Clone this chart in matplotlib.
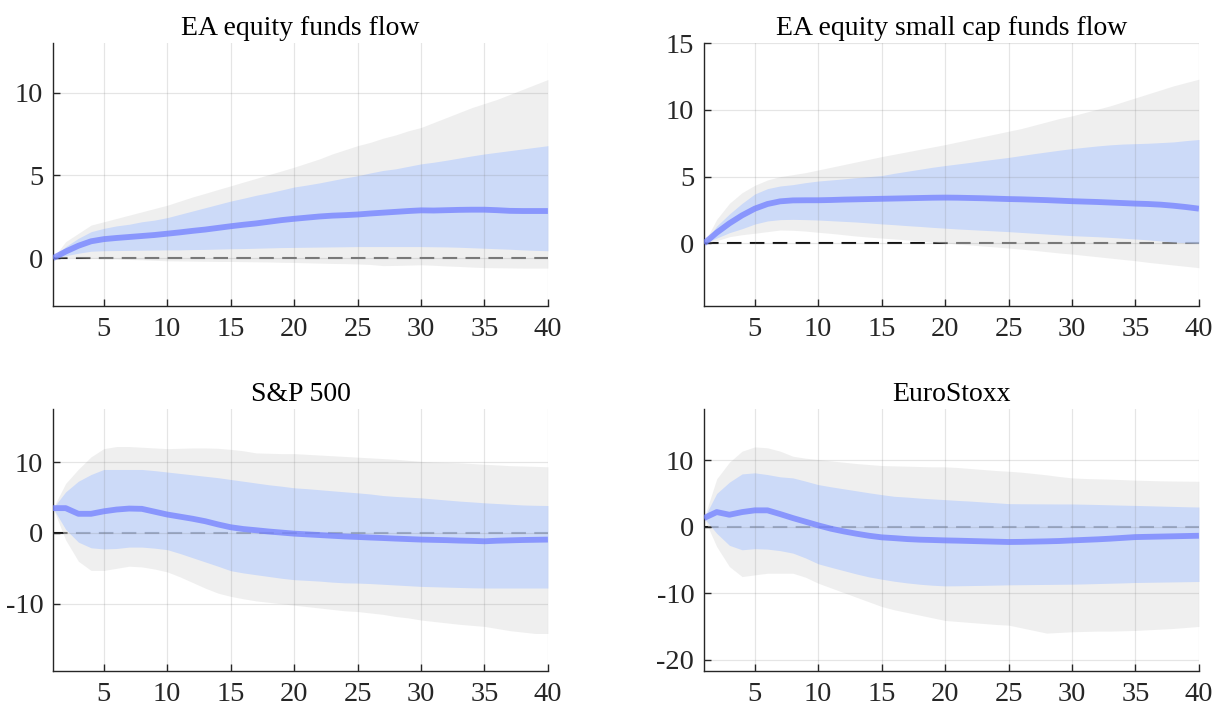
import matplotlib
matplotlib.use("Agg")
import matplotlib.pyplot as plt
import numpy as np

plt.rcParams['font.family'] = ['Liberation Serif', 'DejaVu Serif']
plt.rcParams['axes.unicode_minus'] = False

horizons = list(range(1, 41))
xticks = [5, 10, 15, 20, 25, 30, 35, 40]

titles = ["EA equity funds flow", "EA equity small cap funds flow", "S&P 500", "EuroStoxx"]

# Panel 1: EA equity funds flow
med1 = [0, 0.4, 0.75, 1.02, 1.15, 1.22, 1.28, 1.34, 1.4, 1.48, 1.56, 1.65, 1.73, 1.83, 1.93, 2.02, 2.1, 2.2, 2.3, 2.38,
        2.45, 2.52, 2.57, 2.6, 2.64, 2.7, 2.75, 2.8, 2.85, 2.89, 2.88, 2.9, 2.92, 2.93, 2.93, 2.9, 2.86, 2.85, 2.85, 2.85]
b1_hi = [0, 0.7, 1.2, 1.6, 1.8, 1.95, 2.05, 2.2, 2.3, 2.45, 2.65, 2.85, 3.05, 3.25, 3.45, 3.62, 3.8, 3.95, 4.12, 4.3,
         4.42, 4.55, 4.7, 4.85, 4.98, 5.15, 5.3, 5.4, 5.55, 5.7, 5.8, 5.92, 6.05, 6.18, 6.3, 6.4, 6.5, 6.6, 6.7, 6.8]
b1_lo = [0, 0.15, 0.3, 0.42, 0.45, 0.46, 0.47, 0.48, 0.49, 0.5, 0.5, 0.52, 0.53, 0.55, 0.57, 0.58, 0.6, 0.62, 0.64, 0.65,
         0.66, 0.67, 0.68, 0.69, 0.7, 0.7, 0.7, 0.7, 0.7, 0.7, 0.69, 0.68, 0.66, 0.63, 0.6, 0.57, 0.54, 0.5, 0.47, 0.45]
g1_hi = [0, 1.0, 1.5, 2.0, 2.2, 2.4, 2.6, 2.8, 3.0, 3.2, 3.45, 3.7, 3.92, 4.15, 4.37, 4.6, 4.82, 5.05, 5.27, 5.5,
         5.75, 6.0, 6.3, 6.55, 6.8, 7.0, 7.25, 7.45, 7.7, 7.9, 8.2, 8.5, 8.8, 9.1, 9.35, 9.6, 9.9, 10.2, 10.5, 10.8]
g1_lo = [0, 0.05, 0.02, 0.0, -0.02, -0.05, -0.08, -0.1, -0.13, -0.16, -0.17, -0.18, -0.19, -0.2, -0.2, -0.21, -0.22, -0.23, -0.25, -0.26,
         -0.28, -0.3, -0.32, -0.33, -0.35, -0.38, -0.45, -0.44, -0.42, -0.4, -0.43, -0.47, -0.5, -0.54, -0.57, -0.58, -0.59, -0.6, -0.6, -0.6]

# Panel 2: EA equity small cap funds flow
med2 = [0, 0.8, 1.5, 2.1, 2.6, 2.95, 3.15, 3.22, 3.23, 3.23, 3.25, 3.28, 3.3, 3.32, 3.34, 3.36, 3.38, 3.4, 3.42, 3.43,
        3.42, 3.4, 3.38, 3.35, 3.32, 3.3, 3.27, 3.24, 3.2, 3.16, 3.13, 3.1, 3.06, 3.02, 2.98, 2.95, 2.9, 2.82, 2.72, 2.6]
b2_hi = [0, 1.3, 2.2, 3.0, 3.7, 4.1, 4.3, 4.4, 4.55, 4.67, 4.75, 4.83, 4.92, 5.0, 5.08, 5.25, 5.4, 5.55, 5.7, 5.83,
         5.95, 6.07, 6.2, 6.32, 6.44, 6.58, 6.72, 6.85, 6.98, 7.1, 7.2, 7.3, 7.38, 7.44, 7.47, 7.5, 7.55, 7.6, 7.7, 7.78]
b2_lo = [0, 0.4, 0.8, 1.1, 1.45, 1.68, 1.78, 1.8, 1.78, 1.75, 1.7, 1.65, 1.6, 1.53, 1.46, 1.4, 1.33, 1.27, 1.2, 1.14,
         1.08, 1.03, 0.98, 0.93, 0.88, 0.82, 0.76, 0.7, 0.64, 0.58, 0.54, 0.5, 0.45, 0.39, 0.33, 0.26, 0.18, 0.1, 0.04, 0.0]
g2_hi = [0, 1.8, 3.0, 3.8, 4.35, 4.75, 5.0, 5.15, 5.3, 5.5, 5.7, 5.9, 6.1, 6.3, 6.5, 6.68, 6.86, 7.04, 7.22, 7.4,
         7.6, 7.8, 8.0, 8.2, 8.4, 8.6, 8.85, 9.1, 9.35, 9.55, 9.8, 10.05, 10.3, 10.6, 10.9, 11.2, 11.5, 11.8, 12.05, 12.3]
g2_lo = [0, 0.2, 0.5, 0.65, 0.76, 0.88, 1.0, 0.98, 0.92, 0.83, 0.75, 0.65, 0.55, 0.47, 0.4, 0.33, 0.26, 0.18, 0.1, 0.03,
         -0.05, -0.12, -0.2, -0.27, -0.35, -0.43, -0.52, -0.62, -0.72, -0.8, -0.9, -1.0, -1.1, -1.2, -1.3, -1.42, -1.52, -1.62, -1.72, -1.82]

# Panel 3: S&P 500
med3 = [3.5, 3.5, 2.7, 2.7, 3.05, 3.3, 3.44, 3.4, 3.0, 2.6, 2.3, 2.0, 1.65, 1.2, 0.8, 0.55, 0.38, 0.2, 0.05, -0.1,
        -0.2, -0.3, -0.4, -0.5, -0.57, -0.65, -0.72, -0.8, -0.87, -0.94, -0.98, -1.02, -1.08, -1.12, -1.18, -1.1, -1.05, -1.0, -0.97, -0.94]
b3_hi = [3.5, 5.8, 7.3, 8.25, 8.96, 8.96, 8.96, 8.96, 8.8, 8.6, 8.4, 8.2, 8.0, 7.8, 7.55, 7.3, 7.05, 6.8, 6.6, 6.37,
         6.25, 6.1, 5.95, 5.8, 5.66, 5.5, 5.28, 5.15, 5.05, 4.95, 4.8, 4.65, 4.5, 4.38, 4.25, 4.15, 4.05, 3.95, 3.9, 3.87]
b3_lo = [3.5, 0.5, -1.3, -2.1, -2.26, -2.2, -2.0, -2.0, -2.15, -2.36, -2.9, -3.5, -4.1, -4.7, -5.33, -5.65, -5.9, -6.15, -6.4, -6.6,
         -6.7, -6.8, -6.95, -7.05, -7.08, -7.15, -7.25, -7.35, -7.45, -7.55, -7.6, -7.65, -7.7, -7.75, -7.78, -7.78, -7.78, -7.78, -7.78, -7.78]
g3_hi = [3.5, 7.0, 9.0, 10.75, 11.9, 12.2, 12.2, 12.1, 12.0, 11.9, 11.95, 12.0, 12.0, 11.95, 11.8, 11.6, 11.3, 11.25, 11.2, 11.2,
         11.1, 11.0, 10.9, 10.8, 10.7, 10.6, 10.5, 10.4, 10.25, 10.1, 10.0, 9.95, 9.9, 9.8, 9.7, 9.6, 9.5, 9.45, 9.4, 9.34]
g3_lo = [3.5, -1.0, -4.0, -5.3, -5.3, -5.0, -4.7, -4.8, -5.1, -5.5, -6.2, -7.0, -7.8, -8.5, -8.96, -9.3, -9.6, -9.8, -10.0, -10.2,
         -10.4, -10.6, -10.8, -11.0, -11.1, -11.3, -11.5, -11.8, -12.0, -12.3, -12.5, -12.7, -12.9, -13.05, -13.2, -13.5, -13.8, -14.0, -14.2, -14.2]

# Panel 4: EuroStoxx
med4 = [1.3, 2.2, 1.8, 2.2, 2.46, 2.46, 1.9, 1.3, 0.75, 0.2, -0.3, -0.7, -1.05, -1.36, -1.6, -1.72, -1.86, -1.95, -2.0, -2.06,
        -2.1, -2.15, -2.2, -2.25, -2.3, -2.28, -2.24, -2.2, -2.15, -2.06, -1.98, -1.9, -1.8, -1.68, -1.56, -1.52, -1.48, -1.44, -1.4, -1.36]
b4_hi = [1.3, 5.0, 6.7, 7.94, 8.1, 7.84, 7.5, 7.34, 6.85, 6.33, 6.0, 5.7, 5.4, 5.1, 4.82, 4.57, 4.45, 4.3, 4.18, 4.07,
         3.95, 3.85, 3.72, 3.6, 3.47, 3.45, 3.44, 3.43, 3.42, 3.42, 3.38, 3.34, 3.29, 3.24, 3.2, 3.15, 3.1, 3.05, 3.0, 2.96]
b4_lo = [1.3, -1.0, -2.8, -3.47, -3.3, -3.37, -3.6, -3.97, -4.7, -5.58, -6.1, -6.6, -7.1, -7.55, -7.89, -8.2, -8.45, -8.65, -8.8, -8.9,
         -8.88, -8.85, -8.82, -8.78, -8.74, -8.72, -8.7, -8.68, -8.66, -8.64, -8.6, -8.55, -8.5, -8.45, -8.39, -8.36, -8.33, -8.3, -8.27, -8.24]
g4_hi = [1.3, 7.2, 9.7, 11.36, 12.0, 11.86, 11.36, 10.6, 10.3, 10.1, 9.9, 9.7, 9.5, 9.35, 9.2, 9.15, 9.1, 9.05, 9.0, 9.0,
         8.9, 8.75, 8.6, 8.45, 8.34, 8.2, 8.0, 7.8, 7.55, 7.34, 7.25, 7.2, 7.15, 7.08, 7.0, 6.95, 6.9, 6.87, 6.85, 6.83]
g4_lo = [1.3, -3.0, -6.0, -7.5, -7.24, -7.0, -7.0, -7.0, -7.6, -8.5, -9.2, -9.9, -10.6, -11.3, -12.0, -12.5, -12.9, -13.3, -13.7, -14.1,
         -14.25, -14.4, -14.55, -14.7, -14.8, -15.2, -15.6, -16.0, -15.9, -15.8, -15.75, -15.7, -15.7, -15.65, -15.6, -15.5, -15.4, -15.3, -15.15, -15.0]

yticks = [[0, 5, 10], [0, 5, 10, 15], [-10, 0, 10], [-20, -10, 0, 10]]
ylims = [(-2.9, 13.0), (-4.7, 15.0), (-19.5, 17.5), (-21.7, 17.7)]

panels = [
    (med1, b1_lo, b1_hi, g1_lo, g1_hi),
    (med2, b2_lo, b2_hi, g2_lo, g2_hi),
    (med3, b3_lo, b3_hi, g3_lo, g3_hi),
    (med4, b4_lo, b4_hi, g4_lo, g4_hi),
]

fig = plt.figure(figsize=(12.13, 7.07), dpi=100)
positions = [
    [0.0437, 0.567, 0.408, 0.372],
    [0.5804, 0.567, 0.408, 0.372],
    [0.0437, 0.0509, 0.408, 0.3706],
    [0.5804, 0.0509, 0.408, 0.3706],
]

for i, (med, blo, bhi, glo, ghi) in enumerate(panels):
    ax = fig.add_axes(positions[i])
    ax.axhline(0, color='#111111', linestyle=(0, (7, 4)), linewidth=1.5, zorder=0.8)
    ax.fill_between(horizons, glo, ghi, color=(0.88, 0.88, 0.88), alpha=0.5, linewidth=0, zorder=1)
    ax.fill_between(horizons, blo, bhi, color=(0.71, 0.8, 1.0), alpha=0.6, linewidth=0, zorder=1.1)
    ax.plot(horizons, med, color=(0.45, 0.5, 1.0), alpha=0.75, linewidth=4.2, zorder=3,
            solid_capstyle='butt')
    ax.set_xlim(1, 40)
    ax.set_ylim(*ylims[i])
    ax.set_xticks(xticks)
    ax.set_yticks(yticks[i])
    ax.set_axisbelow(False)
    ax.grid(True, color=(0.5, 0.5, 0.5), alpha=0.2, linewidth=0.9)
    for s in ['top', 'right']:
        ax.spines[s].set_visible(False)
    for s in ['left', 'bottom']:
        ax.spines[s].set_color('#262626')
        ax.spines[s].set_linewidth(1.0)
    ax.tick_params(direction='in', length=5, width=1.0, color='#262626',
                   labelsize=20.5, labelcolor='#262626')
    ax.tick_params(axis='x', pad=8)
    ax.tick_params(axis='y', pad=7)
    ax.set_title(titles[i], fontsize=20, color='black', pad=6)

fig.savefig("out.png", dpi=100)
